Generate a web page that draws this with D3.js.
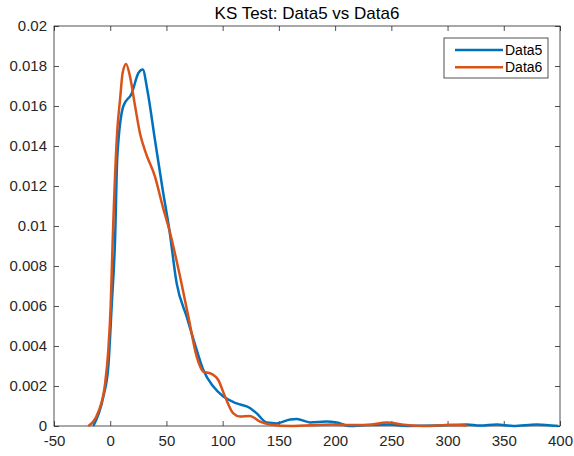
<!DOCTYPE html>
<html>
<head>
<meta charset="utf-8">
<script src="https://cdn.jsdelivr.net/npm/d3@7"></script>
<style>
  body { margin: 0; background: #fff; }
  svg { font-family: "Liberation Sans", Arial, sans-serif; }
</style>
</head>
<body>
<svg id="chart" width="574" height="456"></svg>
<script>
// density estimates
var data5X = [-15, -6.1, -1.7, 1.3, 4.3, 6.3, 11.7, 19.1, 25, 28.9, 33, 39.8, 46.7, 52.6, 59.1, 68, 76.9, 82.8, 91.7, 100.6, 112.5, 124.3, 130.3, 139.2, 148, 160, 165.9, 177.7, 192.5, 201.4, 213, 228, 248.8, 263.7, 290, 317, 329, 343.7, 358.5, 379.3, 398.5];
var data5Y = [0, 0.00147, 0.00297, 0.006, 0.0093, 0.01347, 0.016, 0.01663, 0.01764, 0.01783, 0.0168, 0.0143, 0.0118, 0.0098, 0.00713, 0.00547, 0.0038, 0.0028, 0.00197, 0.00147, 0.00113, 0.0009, 0.00063, 0.00017, 0.00013, 0.00033, 0.00035, 0.00018, 0.00022, 0.00017, 0, 0.00005, 0.00008, 0, 0.00002, 0.00008, 0.00002, 0.00008, 0, 0.00008, 0];

var data6X = [-19.5, -10.6, -4.6, -1.7, 0.4, 2.2, 6.3, 8.7, 11.1, 14.1, 17.6, 22.1, 26.5, 31.8, 39.8, 46.7, 52.6, 62.1, 69.5, 76.9, 82.8, 90.3, 96.1, 102.1, 109.5, 115.4, 124.3, 133.2, 142.1, 160, 198.4, 208, 228, 245.9, 263.7, 281.5, 299.2, 317];
var data6Y = [0, 0.0007, 0.0021, 0.0038, 0.006, 0.0093, 0.0148, 0.0163, 0.01767, 0.0181, 0.01747, 0.016, 0.01463, 0.01363, 0.01247, 0.01097, 0.0098, 0.00747, 0.00547, 0.00347, 0.00272, 0.0026, 0.0023, 0.00147, 0.00063, 0.00047, 0.0005, 0.00022, 0.00008, 0, 0.00008, 0.00005, 0.00005, 0.00017, 0.00005, 0, 0.00005, 0.00003];

var seriesNames = ["Data5", "Data6"];
var seriesColors = ["#0072BD", "#D95319"];
var xTicks = [-50, 0, 50, 100, 150, 200, 250, 300, 350, 400];
var yTicks = [0, 0.002, 0.004, 0.006, 0.008, 0.01, 0.012, 0.014, 0.016, 0.018, 0.02];
var titleText = "KS Test: Data5 vs Data6";

var svg = d3.select("#chart");
// plot box (don't call these top/left, window.top is read-only)
var plotL = 54, plotR = 560, plotT = 26, plotB = 426;

var x = d3.scaleLinear().domain([-50, 400]).range([plotL, plotR]);
var y = d3.scaleLinear().domain([0, 0.02]).range([plotB, plotT]);

var axisColor = "#262626";

// axes with inward ticks on all four sides
function styleAxis(g) {
  g.select(".domain").remove();
  g.selectAll(".tick line").attr("stroke", axisColor).attr("stroke-width", 0.8);
  g.selectAll(".tick text").attr("fill", axisColor).style("font-size", "15px");
}

svg.append("g")
  .attr("transform", "translate(0," + plotB + ")")
  .call(d3.axisBottom(x).tickValues(xTicks).tickFormat(function(d) { return String(d); }).tickSizeInner(-5).tickPadding(9))
  .call(styleAxis);

svg.append("g")
  .attr("transform", "translate(0," + plotT + ")")
  .call(d3.axisTop(x).tickValues(xTicks).tickFormat("").tickSizeInner(-5))
  .call(styleAxis);

svg.append("g")
  .attr("transform", "translate(" + plotL + ",0)")
  .call(d3.axisLeft(y).tickValues(yTicks).tickFormat(function(d) { return String(+d.toFixed(3)); }).tickSizeInner(-5).tickPadding(7))
  .call(styleAxis);

svg.append("g")
  .attr("transform", "translate(" + plotR + ",0)")
  .call(d3.axisRight(y).tickValues(yTicks).tickFormat("").tickSizeInner(-5))
  .call(styleAxis);

svg.append("rect")
  .attr("x", plotL).attr("y", plotT)
  .attr("width", plotR - plotL).attr("height", plotB - plotT)
  .attr("fill", "none").attr("stroke", axisColor).attr("stroke-width", 0.8);

var line = d3.line()
  .x(function(d) { return x(d[0]); })
  .y(function(d) { return y(d[1]); })
  .curve(d3.curveMonotoneX);

var series = [d3.zip(data5X, data5Y), d3.zip(data6X, data6Y)];

svg.append("g").selectAll("path")
  .data(series)
  .join("path")
  .attr("d", line)
  .attr("fill", "none")
  .attr("stroke", function(d, i) { return seriesColors[i]; })
  .attr("stroke-width", 2.5)
  .attr("stroke-linejoin", "round");

svg.append("text")
  .attr("x", (plotL + plotR) / 2)
  .attr("y", 19)
  .attr("text-anchor", "middle")
  .attr("fill", "#000")
  .style("font-size", "17px")
  .text(titleText);

// legend
var legend = svg.append("g");
legend.append("rect")
  .attr("x", 444).attr("y", 38).attr("width", 104).attr("height", 40)
  .attr("fill", "#fff").attr("stroke", axisColor).attr("stroke-width", 0.8);

seriesNames.forEach(function(name, i) {
  var ly = 50 + i * 17.3;
  legend.append("line")
    .attr("x1", 455).attr("x2", 503).attr("y1", ly).attr("y2", ly)
    .attr("stroke", seriesColors[i]).attr("stroke-width", 2.5);
  legend.append("text")
    .attr("x", 505).attr("y", ly + 5)
    .attr("fill", "#000")
    .style("font-size", "14px")
    .text(name);
});
</script>
</body>
</html>
